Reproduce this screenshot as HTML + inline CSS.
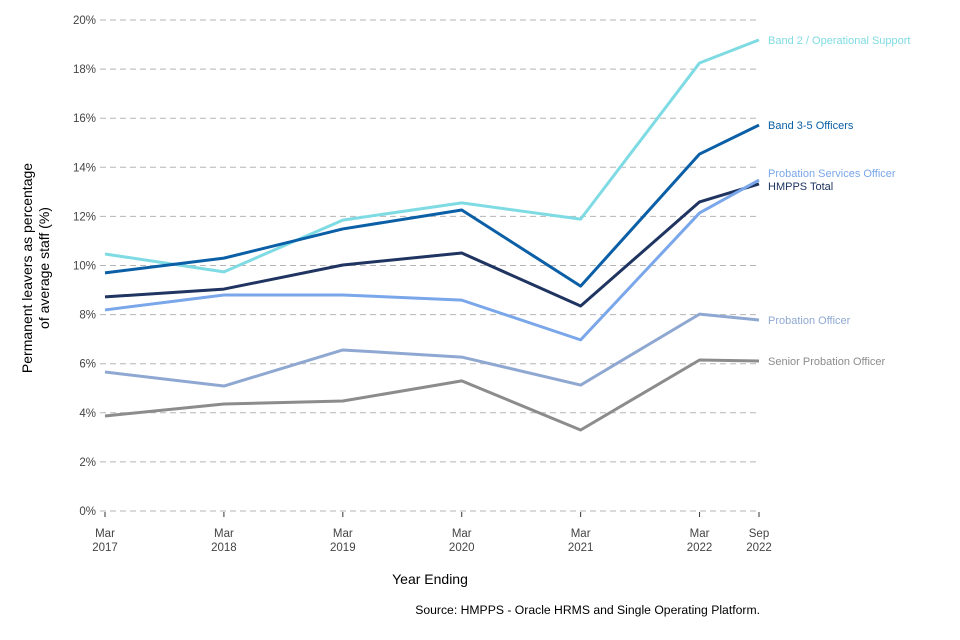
<!DOCTYPE html>
<html><head><meta charset="utf-8"><style>
body{margin:0;background:#fff;}
svg{display:block;font-family:"Liberation Sans",sans-serif;}
</style></head><body>
<svg id="chart" width="960" height="640">
<g id="grid"></g><g id="lines"></g><g id="labels"></g>
<text x="430" y="584" font-size="14" fill="#000" text-anchor="middle">Year Ending</text>
<text transform="translate(40,268) rotate(-90)" font-size="14" fill="#000" text-anchor="middle"><tspan x="0" dy="-8">Permanent leavers as percentage</tspan><tspan x="0" dy="17">of average staff (%)</tspan></text>
<text x="760" y="614" font-size="12.2" fill="#000" text-anchor="end">Source: HMPPS - Oracle HRMS and Single Operating Platform.</text>
</svg>
<script>
const categories=["Mar 2017","Mar 2018","Mar 2019","Mar 2020","Mar 2021","Mar 2022","Sep 2022"];
const catMonths=[0,12,24,36,48,60,66];
const yTicks=[0,2,4,6,8,10,12,14,16,18,20];
const seriesNames=["Band 2 / Operational Support","Band 3-5 Officers","HMPPS Total","Probation Services Officer","Probation Officer","Senior Probation Officer"];
const band2=[10.47,9.74,11.85,12.55,11.89,18.25,19.19];
const band35=[9.7,10.3,11.49,12.26,9.16,14.54,15.72];
const total=[8.72,9.04,10.02,10.51,8.35,12.59,13.32];
const pso=[8.19,8.8,8.8,8.59,6.97,12.14,13.48];
const po=[5.66,5.09,6.56,6.27,5.13,8.02,7.78];
const spo=[3.87,4.36,4.48,5.3,3.3,6.15,6.11];
const colors=["#7fdbe3","#0a5fa6","#1f3461","#7aa6ea","#8fa8d2","#8c8c8c"];
const labelY=[40,125,186,173,320,361];
const allSeries=[band2,band35,total,pso,po,spo];
const NS="http://www.w3.org/2000/svg";
const x=m=>105+m*(759-105)/66;
const y=v=>511-v*(511-20)/20;
function mk(t,a,p){const e=document.createElementNS(NS,t);for(const k in a)e.setAttribute(k,a[k]);p.appendChild(e);return e;}
const grid=document.getElementById('grid');
yTicks.forEach(t=>{
 const l=mk('line',{x1:100,x2:760,y1:y(t),y2:y(t),stroke:'#b5b5b5','stroke-dasharray':'6,4','stroke-width':1},grid);
 
 
 const tx=mk('text',{x:96,y:y(t)+4,'font-size':11.5,fill:'#444','text-anchor':'end'},grid);
 tx.textContent=t+'%';
 
 
});
categories.forEach((c,i)=>{
 const xx=x(catMonths[i]);
 const tk=mk('line',{x1:xx,x2:xx,y1:512,y2:517,stroke:'#333'},grid);
 
 
 const p=c.split(' ');
 const t1=mk('text',{x:xx,y:537,'font-size':11.5,fill:'#444','text-anchor':'middle'},grid);t1.textContent=p[0];
 
 
 const t2=mk('text',{x:xx,y:551,'font-size':11.5,fill:'#444','text-anchor':'middle'},grid);t2.textContent=p[1];
 
 
});
const lines=document.getElementById('lines'),labels=document.getElementById('labels');
allSeries.forEach((s,i)=>{
 const pts=s.map((v,j)=>x(catMonths[j])+','+y(v)).join(' ');
 const pl=mk('polyline',{points:pts,fill:'none',stroke:colors[i],'stroke-width':3,'stroke-linejoin':'round'},lines);
 
 
 const t=mk('text',{x:768,y:labelY[i]+4,'font-size':11,fill:colors[i]},labels);
 t.textContent=seriesNames[i];
 
 
});
</script>
</body></html>
